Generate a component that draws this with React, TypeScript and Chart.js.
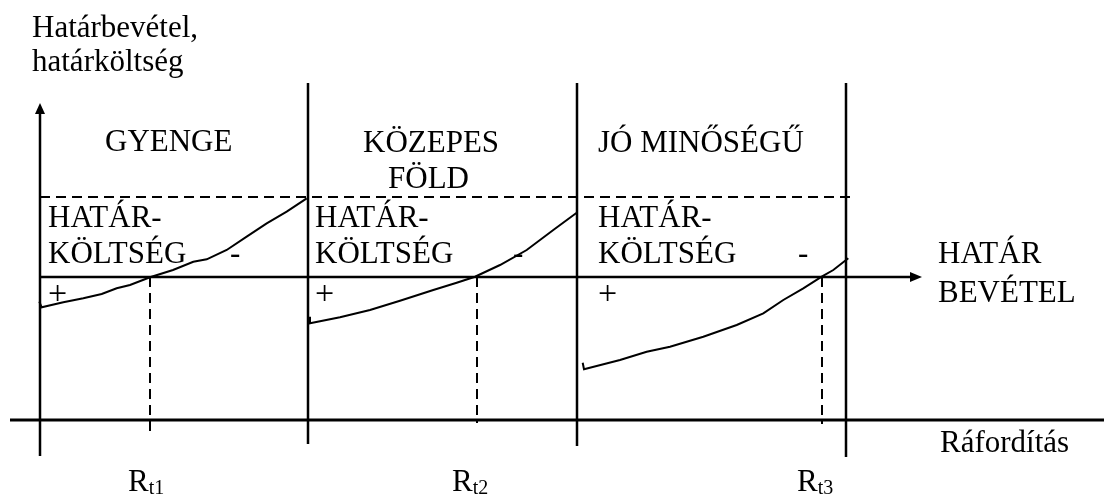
import React, { useEffect, useRef } from "react";
import { Chart, registerables } from "chart.js";

Chart.register(...registerables);

// Axis units: x = Ráfordítás (input), y = határbevétel / határköltség (value)
const panelEdges = [268, 537, 806];
const panelBottoms = [-24, -26, -37];
const panelTop = 337;
const breakEvenX = [110, 437, 782];
const breakEvenBottoms = [-13, -3, -4];
const revenueLevel = 143;
const maxCostLevel = 223;
const revenueAxisEnd = 882;
const maxCostEnd = 812;
const yAxisTop = 317;
const yAxisBottom = -36;
const baseAxisStart = -30;
const baseAxisEnd = 1064;

const costGyengeX = [-0.7, 1.7, 23.3, 43.3, 61.7, 76.7, 90, 110, 133, 153.3, 166.7, 186.7, 206.7, 226.7, 246.7, 266.7];
const costGyengeY = [118.3, 112.7, 117.7, 121.7, 126, 131.7, 135, 142.7, 150, 158.3, 160.7, 170, 183.3, 196.7, 208.3, 221.7];
const costKozepesX = [270, 270, 300, 330, 360, 393.3, 416.7, 435, 460, 486.7, 513.3, 536.7];
const costKozepesY = [103.3, 96.7, 102.7, 110, 119.3, 130, 137.3, 143.3, 155, 170, 190, 207.3];
const costJoX = [542.7, 544, 580, 606.7, 630, 663.3, 696.7, 723.3, 743.3, 763.3, 781.7, 793.3, 808.3];
const costJoY = [57.3, 50.7, 60, 68.3, 73.3, 83.3, 95, 106.7, 120, 131.7, 143.3, 150, 161.7];

const panelTitles = ["GYENGE", "KÖZEPES", "FÖLD", "JÓ MINŐSÉGŰ"];
const costLabel = ["HATÁR-", "KÖLTSÉG"];
const revenueLabel = ["HATÁR", "BEVÉTEL"];
const yTitle = ["Határbevétel,", "határköltség"];
const xTitle = "Ráfordítás";
const breakEvenLabels = ["t1", "t2", "t3"];

// text placement (data units)
const textLayout = [
  { t: yTitle[0], x: -8, y: 383 },
  { t: yTitle[1], x: -8, y: 349 },
  { t: panelTitles[0], x: 65, y: 269 },
  { t: panelTitles[1], x: 323, y: 268 },
  { t: panelTitles[2], x: 348, y: 232 },
  { t: panelTitles[3], x: 558, y: 268 },
  { t: costLabel[0], x: 8, y: 193 },
  { t: costLabel[1], x: 8, y: 157 },
  { t: costLabel[0], x: 275, y: 193 },
  { t: costLabel[1], x: 275, y: 157 },
  { t: costLabel[0], x: 558, y: 193 },
  { t: costLabel[1], x: 558, y: 157 },
  { t: "-", x: 190, y: 157 },
  { t: "-", x: 473, y: 157 },
  { t: "-", x: 758, y: 157 },
  { t: revenueLabel[0], x: 898, y: 157 },
  { t: revenueLabel[1], x: 898, y: 118 },
  { t: xTitle, x: 900, y: -32 },
];
const plusLayout = [
  { x: 8, y: 116 },
  { x: 275, y: 116 },
  { x: 558, y: 116 },
];
const rLabelX = [88, 412, 757];
const rLabelY = -71;

const FONT = '"Liberation Serif", "Times New Roman", serif';

function pts(xs: number[], ys: number[]) {
  return xs.map((x, i) => ({ x, y: ys[i] }));
}

export default function App() {
  const ref = useRef<HTMLCanvasElement | null>(null);
  useEffect(() => {
    const canvas = ref.current;
    if (!canvas) return;
    document.body.style.margin = "0";
    const line = (data: { x: number; y: number }[], dashed = false, width = 2) => ({
      data,
      showLine: true,
      borderColor: "#000",
      borderWidth: width,
      borderDash: dashed ? [10, 6] : [],
      pointRadius: 0,
      fill: false,
      tension: 0,
    });
    const datasets: any[] = [];
    datasets.push(line([{ x: baseAxisStart, y: 0 }, { x: baseAxisEnd, y: 0 }], false, 3));
    datasets.push(line([{ x: 0, y: yAxisBottom }, { x: 0, y: yAxisTop - 8 }], false, 2.5));
    panelEdges.forEach((px, i) =>
      datasets.push(line([{ x: px, y: panelTop }, { x: px, y: panelBottoms[i] }], false, 2.5))
    );
    datasets.push(line([{ x: 0, y: maxCostLevel }, { x: maxCostEnd, y: maxCostLevel }], true, 2));
    datasets.push(line([{ x: 0, y: revenueLevel }, { x: revenueAxisEnd - 10, y: revenueLevel }], false, 2.5));
    breakEvenX.forEach((bx, i) =>
      datasets.push(line([{ x: bx, y: revenueLevel }, { x: bx, y: breakEvenBottoms[i] }], true, 2))
    );
    datasets.push(line(pts(costGyengeX, costGyengeY)));
    datasets.push(line(pts(costKozepesX, costKozepesY)));
    datasets.push(line(pts(costJoX, costJoY)));

    const decor = {
      id: "decor",
      afterDatasetsDraw(chart: any) {
        const { ctx, scales } = chart;
        const sx = (v: number) => scales.x.getPixelForValue(v);
        const sy = (v: number) => scales.y.getPixelForValue(v);
        ctx.save();
        ctx.fillStyle = "#000";
        // arrowheads
        const ax = sx(0), ay = sy(yAxisTop);
        ctx.beginPath();
        ctx.moveTo(ax, ay);
        ctx.lineTo(ax - 5, ay + 11);
        ctx.lineTo(ax + 5, ay + 11);
        ctx.closePath();
        ctx.fill();
        const hx = sx(revenueAxisEnd), hy = sy(revenueLevel);
        ctx.beginPath();
        ctx.moveTo(hx, hy);
        ctx.lineTo(hx - 12, hy - 5);
        ctx.lineTo(hx - 12, hy + 5);
        ctx.closePath();
        ctx.fill();
        // texts
        ctx.textBaseline = "alphabetic";
        ctx.textAlign = "left";
        ctx.font = `31px ${FONT}`;
        textLayout.forEach((l) => ctx.fillText(l.t, sx(l.x), sy(l.y)));
        ctx.font = `34px ${FONT}`;
        plusLayout.forEach((l) => ctx.fillText("+", sx(l.x), sy(l.y)));
        rLabelX.forEach((rx, i) => {
          ctx.font = `31px ${FONT}`;
          const x0 = sx(rx), y0 = sy(rLabelY);
          ctx.fillText("R", x0, y0);
          const w = ctx.measureText("R").width;
          ctx.font = `20px ${FONT}`;
          ctx.fillText(breakEvenLabels[i], x0 + w, y0 + 3);
        });
        ctx.restore();
      },
    };

    const chart = new Chart(canvas, {
      type: "scatter",
      data: { datasets },
      options: {
        animation: false,
        responsive: false,
        maintainAspectRatio: false,
        layout: { padding: 0 },
        plugins: { legend: { display: false }, tooltip: { enabled: false } },
        scales: {
          x: { type: "linear", min: -40, max: 1064, display: false },
          y: { type: "linear", min: -75, max: 420, display: false },
        },
      },
      plugins: [decor],
    });
    return () => chart.destroy();
  }, []);
  return (
    <div style={{ position: "fixed", left: 0, top: 0, width: 1104, height: 495, background: "#fff" }}>
      <canvas ref={ref} width={1104} height={495} />
    </div>
  );
}
